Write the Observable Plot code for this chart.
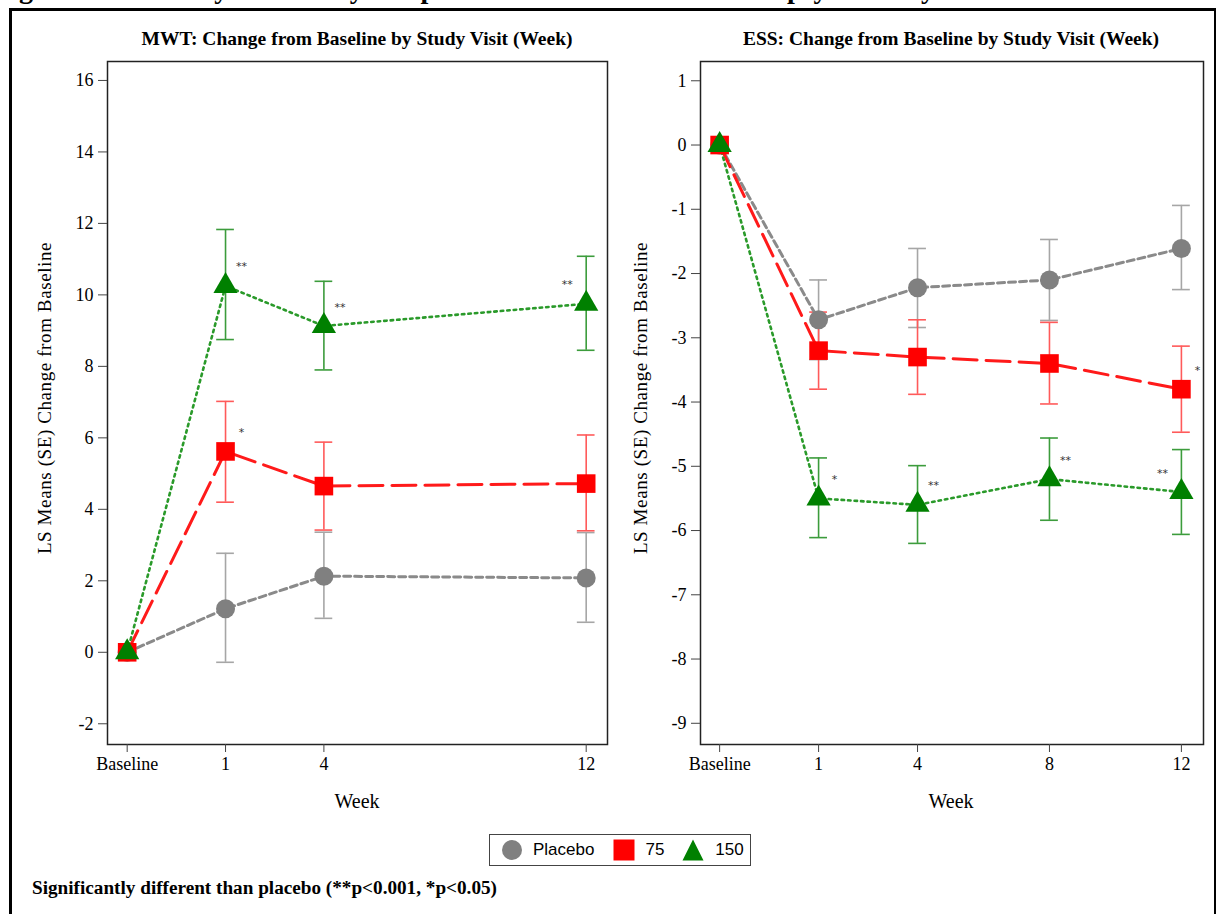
<!DOCTYPE html>
<html><head><meta charset="utf-8">
<script src="https://cdn.jsdelivr.net/npm/d3@7"></script>
<script src="https://cdn.jsdelivr.net/npm/@observablehq/plot@0.6"></script>
<style>
html,body{margin:0;padding:0;background:#fff;}
body{width:1220px;height:914px;overflow:hidden;position:relative;font-family:"Liberation Serif","Times New Roman",serif;color:#000;}
#figtitle{position:absolute;left:-6px;top:-27px;font-weight:bold;font-size:28px;line-height:32px;white-space:nowrap;}
#outer{position:absolute;left:9px;top:8px;width:1207px;height:1000px;border-top:3px solid #000;border-left:3px solid #000;border-right:2px solid #000;box-sizing:border-box;background:#fff;}
.ptitle{position:absolute;top:28px;font-weight:bold;font-size:19.5px;white-space:nowrap;transform:translateX(-50%);}
.panel{position:absolute;top:0;}
.ylab{position:absolute;top:398px;font-size:19px;letter-spacing:0.6px;white-space:nowrap;transform:translate(-50%,-50%) rotate(-90deg);}
.xlab{position:absolute;top:790px;font-size:20px;white-space:nowrap;transform:translateX(-50%);}
#legend{position:absolute;left:489px;top:834px;width:262px;height:32px;border:1.5px solid #444;box-sizing:border-box;display:flex;align-items:center;font-family:"Liberation Sans",Arial,sans-serif;font-size:17px;background:#fff;}
#legend svg{display:block;}
#legend span{display:inline-block;}
#footer{position:absolute;left:32px;top:877px;font-weight:bold;font-size:19.2px;white-space:nowrap;}
</style></head>
<body>
<div id="outer"></div>
<div id="figtitle">Figure 1: Summary of Efficacy Endpoints in Patients with Narcolepsy in Study 1</div>
<div id="p1" class="panel" style="left:0px"></div>
<div id="p2" class="panel" style="left:610px"></div>
<div class="ptitle" style="left:357px">MWT: Change from Baseline by Study Visit (Week)</div>
<div class="ptitle" style="left:951px">ESS: Change from Baseline by Study Visit (Week)</div>
<div class="ylab" style="left:45px">LS Means (SE) Change from Baseline</div>
<div class="ylab" style="left:641px">LS Means (SE) Change from Baseline</div>
<div class="xlab" style="left:357px">Week</div>
<div class="xlab" style="left:951px">Week</div>
<div id="legend"></div>
<div id="footer">Significantly different than placebo (**p&lt;0.001, *p&lt;0.05)</div>
<script>
// ---------- data ----------
const groups = ["Placebo", "75", "150"];
const visitsMWT = ["Baseline", 1, 4, 12];
const visitsESS = ["Baseline", 1, 4, 8, 12];

// MWT: LS mean change and SE bar ends
const mwtPlaceboMean = [0, 1.22, 2.13, 2.08];
const mwtPlaceboHi   = [null, 2.77, 3.36, 3.35];
const mwtPlaceboLo   = [null, -0.28, 0.95, 0.84];
const mwt75Mean      = [0, 5.62, 4.65, 4.72];
const mwt75Hi        = [null, 7.02, 5.88, 6.08];
const mwt75Lo        = [null, 4.20, 3.42, 3.40];
const mwt150Mean     = [0, 10.25, 9.13, 9.75];
const mwt150Hi       = [null, 11.83, 10.38, 11.08];
const mwt150Lo       = [null, 8.75, 7.90, 8.45];

// ESS
const essPlaceboMean = [0, -2.72, -2.22, -2.10, -1.61];
const essPlaceboHi   = [null, -2.10, -1.61, -1.47, -0.94];
const essPlaceboLo   = [null, -3.34, -2.84, -2.73, -2.25];
const ess75Mean      = [0, -3.20, -3.30, -3.40, -3.80];
const ess75Hi        = [null, -2.60, -2.72, -2.76, -3.13];
const ess75Lo        = [null, -3.80, -3.88, -4.03, -4.47];
const ess150Mean     = [0, -5.50, -5.60, -5.20, -5.40];
const ess150Hi       = [null, -4.87, -4.99, -4.56, -4.74];
const ess150Lo       = [null, -6.11, -6.20, -5.84, -6.06];

// significance markers
const mwtStars = [
  {visit: 1, group: "150", label: "**", side: "right"},
  {visit: 4, group: "150", label: "**", side: "right"},
  {visit: 12, group: "150", label: "**", side: "left"},
  {visit: 1, group: "75", label: "*", side: "right"}
];
const essStars = [
  {visit: 1, group: "150", label: "*", side: "right"},
  {visit: 4, group: "150", label: "**", side: "right"},
  {visit: 8, group: "150", label: "**", side: "right"},
  {visit: 12, group: "150", label: "**", side: "left"},
  {visit: 12, group: "75", label: "*", side: "right"}
];

const mwtTicksY = [-2, 0, 2, 4, 6, 8, 10, 12, 14, 16];
const essTicksY = [1, 0, -1, -2, -3, -4, -5, -6, -7, -8, -9];

// ---------- styling ----------
const BASE_POS = -2; // where "Baseline" sits on the week axis
const xOf = v => v === "Baseline" ? BASE_POS : v;
const style = {
  Placebo: {color: "#808080", line: "#8a8a8a", bar: "#a6a6a6", dash: "7,4", width: 3, symbol: "circle", r: 9.5},
  "75":    {color: "#ff0000", line: "#ff1a1a", bar: "#ff5a5a", dash: "24,9", width: 3, symbol: "square", r: 10.5},
  "150":   {color: "#008000", line: "#2a9a2a", bar: "#3c9c3c", dash: "2.5,4", width: 2.6, symbol: "triangle", r: 9}
};

function buildRows(visits, series) {
  const rows = [];
  for (const g of groups) {
    const s = series[g];
    visits.forEach((v, i) => rows.push({group: g, visit: v, x: xOf(v), y: s.mean[i], hi: s.hi[i], lo: s.lo[i]}));
  }
  return rows;
}

function panel(rows, stars, visits, yTicks) {
  const bars = rows.filter(d => d.hi != null);
  const cap = 0.27;
  const starRows = stars.map(s => {
    const r = rows.find(d => d.group === s.group && d.visit === s.visit);
    return {...s, x: r.x, y: r.y};
  });
  const marks = [];
  for (const g of groups) {
    const b = bars.filter(d => d.group === g);
    marks.push(Plot.ruleX(b, {x: "x", y1: "lo", y2: "hi", stroke: style[g].bar, strokeWidth: 1.6}));
    marks.push(Plot.ruleY(b, {y: "hi", x1: d => d.x - cap, x2: d => d.x + cap, stroke: style[g].bar, strokeWidth: 1.6}));
    marks.push(Plot.ruleY(b, {y: "lo", x1: d => d.x - cap, x2: d => d.x + cap, stroke: style[g].bar, strokeWidth: 1.6}));
  }
  for (const g of groups) {
    marks.push(Plot.line(rows.filter(d => d.group === g), {x: "x", y: "y", stroke: style[g].line, strokeWidth: style[g].width, strokeDasharray: style[g].dash}));
  }
  for (const g of groups) {
    marks.push(Plot.dot(rows.filter(d => d.group === g), {x: "x", y: "y", symbol: () => style[g].symbol, r: style[g].r, fill: style[g].color, stroke: "none"}));
  }
  marks.push(Plot.text(starRows.filter(d => d.side === "right"), {x: "x", y: "y", text: "label", dx: 16, dy: -19, fontSize: 11, fontFamily: "DejaVu Sans", fill: "#333"}));
  marks.push(Plot.text(starRows.filter(d => d.side === "left"), {x: "x", y: "y", text: "label", dx: -19, dy: -19, fontSize: 11, fontFamily: "DejaVu Sans", fill: "#333"}));
  marks.push(Plot.frame({stroke: "#222", strokeWidth: 1.5}));
  const xTicks = visits.map(xOf);
  marks.push(Plot.axisX({ticks: xTicks, tickFormat: d => d === BASE_POS ? "Baseline" : String(d), tickSize: 8, tickPadding: 5, stroke: "#444", label: null}));
  marks.push(Plot.axisY({ticks: yTicks, tickFormat: d => String(d), tickSize: 9, tickPadding: 5, stroke: "#444", label: null}));
  return marks;
}

const mwtRows = buildRows(visitsMWT, {
  Placebo: {mean: mwtPlaceboMean, hi: mwtPlaceboHi, lo: mwtPlaceboLo},
  "75": {mean: mwt75Mean, hi: mwt75Hi, lo: mwt75Lo},
  "150": {mean: mwt150Mean, hi: mwt150Hi, lo: mwt150Lo}
});
const essRows = buildRows(visitsESS, {
  Placebo: {mean: essPlaceboMean, hi: essPlaceboHi, lo: essPlaceboLo},
  "75": {mean: ess75Mean, hi: ess75Hi, lo: ess75Lo},
  "150": {mean: ess150Mean, hi: ess150Hi, lo: ess150Lo}
});

const common = {
  height: 830, marginTop: 61, marginBottom: 86,
  style: {fontFamily: "'Liberation Serif', 'Times New Roman', serif", fontSize: "18px", color: "#000", background: "transparent", overflow: "visible"}
};

const p1 = Plot.plot({
  ...common, width: 615, marginLeft: 107, marginRight: 8,
  x: {type: "linear", domain: [-2.6, 12.65]},
  y: {domain: [-2.58, 16.53]},
  marks: panel(mwtRows, mwtStars, visitsMWT, mwtTicksY)
});
document.getElementById("p1").appendChild(p1);

const p2 = Plot.plot({
  ...common, width: 600, marginLeft: 90, marginRight: 7,
  x: {type: "linear", domain: [-2.58, 12.67]},
  y: {domain: [-9.33, 1.3]},
  marks: panel(essRows, essStars, visitsESS, essTicksY)
});
document.getElementById("p2").appendChild(p2);

// legend
const leg = document.getElementById("legend");
const ns = "http://www.w3.org/2000/svg";
const legendShapes = {
  Placebo: '<circle cx="11" cy="11" r="10" fill="#808080"/>',
  "75": '<rect x="0.5" y="0.5" width="21" height="21" fill="#ff0000"/>',
  "150": '<path d="M11,0.5 L21.5,21.5 L0.5,21.5 Z" fill="#008000"/>'
};
const legendGap = {Placebo: [11, 10, 19], "75": [0, 10, 18], "150": [0, 11, 0]};
for (const g of groups) {
  const [ml, mid, mr] = legendGap[g];
  const sv = document.createElementNS(ns, "svg");
  sv.setAttribute("width", 22); sv.setAttribute("height", 22);
  sv.style.marginLeft = ml + "px";
  sv.innerHTML = legendShapes[g];
  leg.appendChild(sv);
  const sp = document.createElement("span");
  sp.textContent = g;
  sp.style.marginLeft = mid + "px";
  sp.style.marginRight = mr + "px";
  leg.appendChild(sp);
}
</script>
</body></html>
